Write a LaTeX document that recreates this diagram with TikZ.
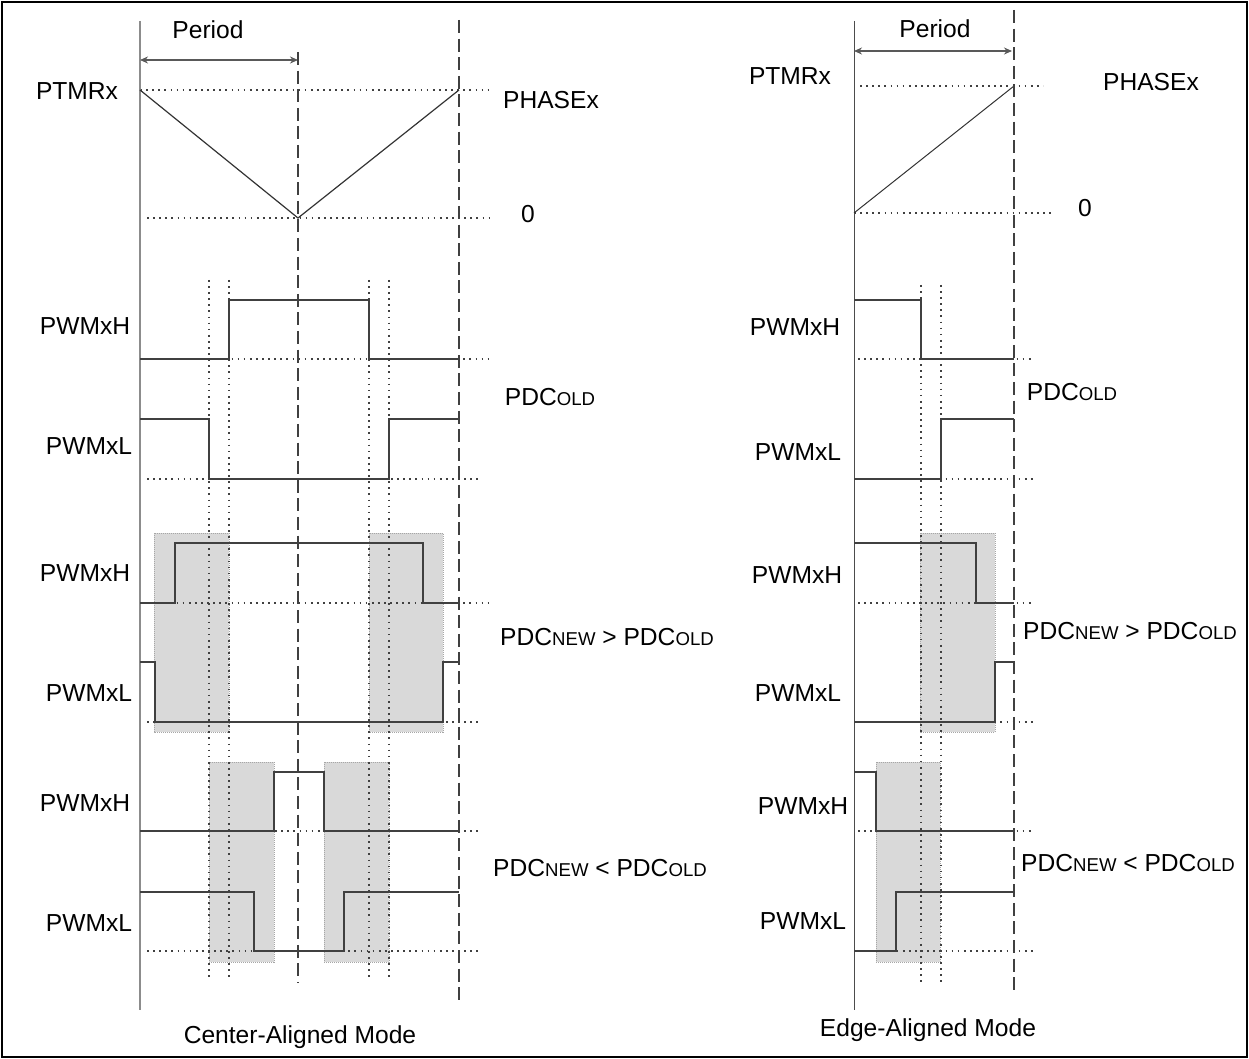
\documentclass[tikz,border=0pt]{standalone}
\usepackage{fontspec}
\setmainfont{Liberation Sans}
\usetikzlibrary{arrows.meta}
\tikzset{
  wave/.style={draw=black!75, line width=0.8pt},
  grid/.style={draw=black!75, line width=0.85pt, dash pattern=on 0.85pt off 2.2pt},
  bound/.style={draw=black!75, line width=1.3pt, dash pattern=on 6.5pt off 2.8pt},
  shade/.style={fill=black!15, draw=black!35, line width=0.5pt, dash pattern=on 0.5pt off 0.5pt},
  lbl/.style={font=\fontsize{12.3}{14}\selectfont, inner sep=0pt},
  span/.style={{Stealth[length=4pt,width=3.5pt]}-{Stealth[length=4pt,width=3.5pt]}, draw=black!65, line width=0.6pt},
}
\newcommand{\lowcaps}[1]{{\fontsize{9.3}{11}\selectfont #1}}

\begin{document}
\begin{tikzpicture}[x=0.5pt, y=-0.5pt]
  \useasboundingbox (0,0) rectangle (1249,1059);
  \draw[line width=1pt] (2,2) rectangle (1247,1057);

  % ---------------- center-aligned mode ----------------
  % shaded update windows
  \fill[shade] (154,533) rectangle (229,732);
  \fill[shade] (369,533) rectangle (443,732);
  \fill[shade] (209,762) rectangle (274,962);
  \fill[shade] (324,762) rectangle (389,962);
  \draw[shade, fill=none] (154,533) rectangle (229,732) (369,533) rectangle (443,732)
    (209,762) rectangle (274,962) (324,762) rectangle (389,962);
  % dead-time markers
  \foreach \x in {209,229,369,389}{\draw[grid] (\x,280) -- (\x,977);}
  % reference levels
  \draw[grid] (140,90) -- (490,90);
  \draw[grid] (147,218) -- (490,218);
  \foreach \y in {359,603}{\draw[grid] (140,\y) -- (490,\y);}
  \foreach \y in {479,722,831,951}{\draw[grid] (147,\y) -- (482,\y);}
  % time axis and period
  \draw[draw=black!45, line width=0.6pt] (140,21) -- (140,1010);
  \draw[span] (140,60) -- (298,60);
  \node[lbl] (perL) at (208,30) {Period};
  % timer
  \draw[draw=black!80, line width=0.6pt] (140,90) -- (298,218) -- (459,90);
  \node[lbl] (tmrL) at (77,91) {PTMRx};
  \node[lbl] (phL) at (551,100) {PHASEx};
  \node[lbl] (zeroL) at (528,214) {0};
  % PDC old
  \draw[wave] (140,359) -| (229,300) -| (369,359) -- (459,359);
  \draw[wave] (140,419) -| (209,479) -| (389,419) -- (459,419);
  \node[lbl] (hA) at (85,326) {PWMxH};
  \node[lbl] (lA) at (89,446) {PWMxL};
  \node[lbl] (oldL) at (550,397) {PDC\lowcaps{OLD}};
  % PDC new > old
  \draw[wave] (140,603) -| (175,543) -| (423,603) -- (459,603);
  \draw[wave] (140,662) -| (155,722) -| (443,662) -- (459,662);
  \node[lbl] (hB) at (85,573) {PWMxH};
  \node[lbl] (lB) at (89,693) {PWMxL};
  \node[lbl] (gtL) at (607,637) {PDC\lowcaps{NEW} > PDC\lowcaps{OLD}};
  % PDC new < old
  \draw[wave] (140,831) -| (274,772) -| (324,831) -- (459,831);
  \draw[wave] (140,892) -| (254,951) -| (344,892) -- (459,892);
  \node[lbl] (hC) at (85,803) {PWMxH};
  \node[lbl] (lC) at (89,923) {PWMxL};
  \node[lbl] (ltL) at (600,868) {PDC\lowcaps{NEW} < PDC\lowcaps{OLD}};
  % period boundaries
  \draw[bound] (298,52) -- (298,983);
  \draw[bound] (459,20) -- (459,1002);
  \node[lbl] (modeL) at (300,1037) {Center-Aligned Mode};

  % ---------------- edge-aligned mode ----------------
  \fill[shade] (920,533) rectangle (995,732);
  \fill[shade] (876,762) rectangle (940,962);
  \draw[shade, fill=none] (920,533) rectangle (995,732) (876,762) rectangle (940,962);
  \foreach \x in {921,941}{\draw[grid] (\x,285) -- (\x,982);}
  \draw[grid] (860,86) -- (1043,86);
  \draw[grid] (854,213) -- (1053,213);
  \foreach \y in {359,603,831}{\draw[grid] (858,\y) -- (1033,\y);}
  \foreach \y in {479,722,951}{\draw[grid] (854,\y) -- (1033,\y);}
  \draw[draw=black!70, line width=0.5pt] (854,21) -- (854,1010);
  \draw[span] (854,51) -- (1012,51);
  \node[lbl] (perR) at (935,29) {Period};
  \draw[draw=black!80, line width=0.5pt] (854,213) -- (1014,86);
  \node[lbl] (tmrR) at (790,76) {PTMRx};
  \node[lbl] (phR) at (1151,82) {PHASEx};
  \node[lbl] (zeroR) at (1085,208) {0};
  % PDC old
  \draw[wave] (854,300) -| (921,359) -- (1014,359);
  \draw[wave] (854,479) -| (941,419) -- (1014,419);
  \node[lbl] (hD) at (795,327) {PWMxH};
  \node[lbl] (lD) at (798,452) {PWMxL};
  \node[lbl] (oldR) at (1072,392) {PDC\lowcaps{OLD}};
  % PDC new > old
  \draw[wave] (854,543) -| (976,603) -- (1014,603);
  \draw[wave] (854,722) -| (995,662) -- (1014,662);
  \node[lbl] (hE) at (797,575) {PWMxH};
  \node[lbl] (lE) at (798,693) {PWMxL};
  \node[lbl] (gtR) at (1130,631) {PDC\lowcaps{NEW} > PDC\lowcaps{OLD}};
  % PDC new < old
  \draw[wave] (854,772) -| (876,831) -- (1014,831);
  \draw[wave] (854,951) -| (896,892) -- (1014,892);
  \node[lbl] (hF) at (803,806) {PWMxH};
  \node[lbl] (lF) at (803,921) {PWMxL};
  \node[lbl] (ltR) at (1128,863) {PDC\lowcaps{NEW} < PDC\lowcaps{OLD}};
  \draw[bound] (1014,10) -- (1014,990);
  \node[lbl] (modeR) at (928,1030) {Edge-Aligned Mode};
\end{tikzpicture}
\end{document}
